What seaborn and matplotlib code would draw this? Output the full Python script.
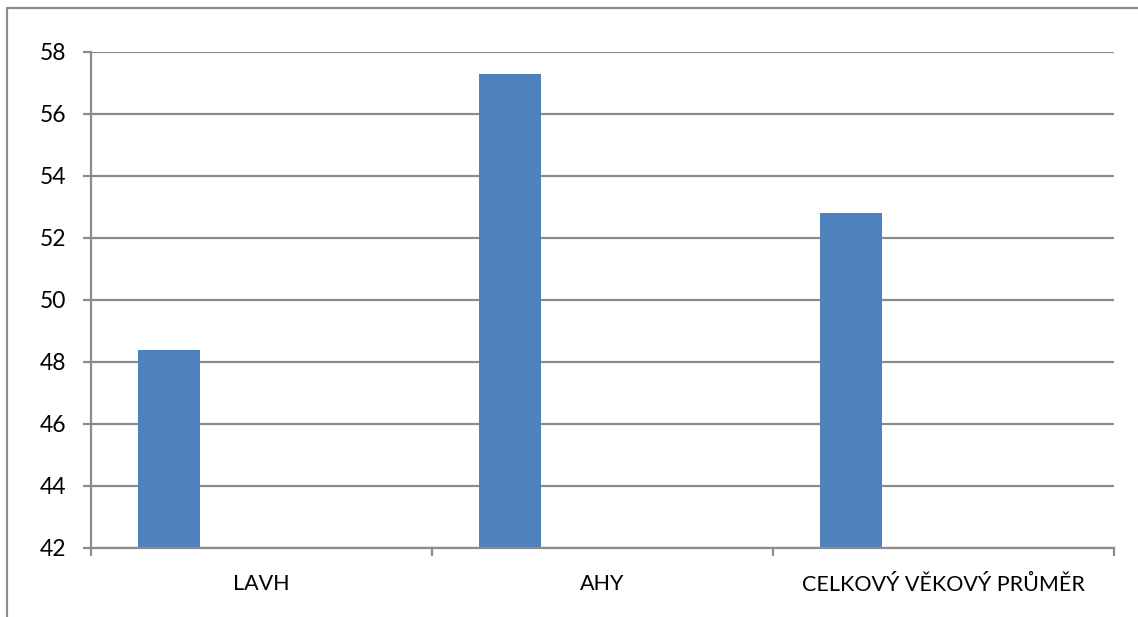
import matplotlib
matplotlib.use("Agg")
import matplotlib.pyplot as plt
from matplotlib.patches import Rectangle
from matplotlib.ticker import FixedLocator
import numpy as np
import pandas as pd
import seaborn as sns

categories = ["LAVH", "AHY", "CELKOVÝ VĚKOVÝ PRŮMĚR"]
values = [48.4, 57.3, 52.8]
series_order = ["Řada 1", "Řada 2", "Řada 3", "Řada 4"]
y_ticks = [42, 44, 46, 48, 50, 52, 54, 56, 58]

BAR = "#4F81BD"
GRID = "#8C8C8C"

sns.set_theme(style="white")
plt.rcParams["font.family"] = ["Lato", "DejaVu Sans"]

# only the first series carries values; the other series slots stay empty
rows = []
for s_idx, series in enumerate(series_order):
    for c_idx, cat in enumerate(categories):
        rows.append({
            "kategorie": cat,
            "rada": series,
            "hodnota": values[c_idx] if s_idx == 0 else np.nan,
        })
df = pd.DataFrame(rows)

fig = plt.figure(figsize=(11.38, 6.17), dpi=100)
ax = fig.add_axes([91 / 1138, 1 - 548 / 617, (1114 - 91) / 1138, (548 - 52) / 617])

sns.barplot(
    data=df, x="kategorie", y="hodnota", hue="rada",
    hue_order=series_order, order=categories,
    palette=[BAR] * len(series_order), width=4 * 62 / 341,
    saturation=1, legend=False, ax=ax, linewidth=0, errorbar=None,
)

ax.set_ylim(y_ticks[0], y_ticks[-1])
ax.set_xlim(-0.5, len(categories) - 0.5)
ax.set_yticks(y_ticks)
ax.yaxis.grid(True, color=GRID, linewidth=1.6)
ax.set_axisbelow(True)
ax.set_xlabel("")
ax.set_ylabel("")

for side in ["top", "right"]:
    ax.spines[side].set_visible(False)
for side in ["left", "bottom"]:
    ax.spines[side].set_color(GRID)
    ax.spines[side].set_linewidth(1.6)

ax.xaxis.set_minor_locator(FixedLocator([i - 0.5 for i in range(len(categories) + 1)]))
ax.tick_params(axis="x", which="major", length=0, pad=19, labelsize=15.5, labelcolor="black")
ax.tick_params(axis="x", which="minor", length=6, width=1.6, color=GRID, direction="out", bottom=True)
ax.tick_params(axis="y", which="major", length=6, width=1.6, color=GRID, direction="out", left=True,
               pad=12, labelsize=16.5, labelcolor="black")

# chart area border
fig.patches.append(Rectangle((7 / 1138, -0.05), 1.1, 1 - 8 / 617 + 0.05,
                             transform=fig.transFigure, fill=False,
                             edgecolor=GRID, linewidth=1.6))

fig.savefig("out.png", dpi=100)
